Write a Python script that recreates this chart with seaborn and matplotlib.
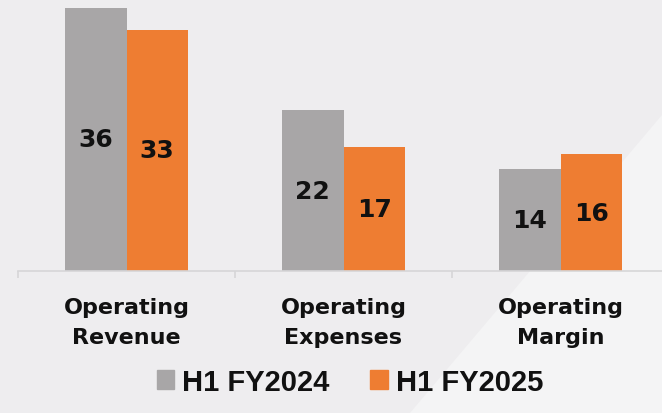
import pandas as pd
import matplotlib.pyplot as plt
import seaborn as sns
from matplotlib.patches import Polygon

# chart values
categories = ['Operating\nRevenue', 'Operating\nExpenses', 'Operating\nMargin']
periods = ['H1 FY2024', 'H1 FY2025']
fy2024 = [36, 22, 14]
fy2025 = [33, 17, 16]

colors = {'H1 FY2024': '#a8a6a7', 'H1 FY2025': '#ee7d32'}

df = pd.DataFrame({
    'Category': categories * 2,
    'Period': [periods[0]] * 3 + [periods[1]] * 3,
    'Value': fy2024 + fy2025,
})

sns.set_style('white')
plt.rcParams['font.family'] = ['DejaVu Sans']

fig = plt.figure(figsize=(6.62, 4.14), dpi=100, facecolor='#eeedef')

# soft light wedge in the background (lower right)
bg = Polygon([(1.0, 0.72), (1.0, 0.0), (0.62, 0.0)], closed=True,
             transform=fig.transFigure, facecolor='#f4f4f5', edgecolor='none', zorder=-10)
fig.patches.append(bg)

ax = fig.add_axes([18 / 662, 142 / 414, 644 / 662, 272 / 414])
ax.set_facecolor('none')
ax.set_zorder(5)

sns.barplot(data=df, x='Category', y='Value', hue='Period', palette=colors,
            width=0.565, gap=0, saturation=1, linewidth=0, ax=ax, legend=False)

for cont in ax.containers:
    ax.bar_label(cont, label_type='center', fontsize=18, fontweight='bold', color='#111111')

ax.set_yticks([])
ax.set_xlabel('')
ax.set_ylabel('')

for s in ['top', 'right', 'left']:
    ax.spines[s].set_visible(False)
ax.spines['bottom'].set_color('#d6d6d8')
ax.spines['bottom'].set_linewidth(1.2)

ax.set_xticks([0, 1, 2])
ax.set_xticklabels(categories, fontsize=16, fontweight='bold', color='#111111', linespacing=1.6)
ax.tick_params(axis='x', which='major', bottom=False, length=0, pad=19)
ax.set_xticks([-0.5, 0.5, 1.5, 2.5], minor=True)
ax.tick_params(axis='x', which='minor', bottom=True, length=5, width=1.2,
               color='#d6d6d8', direction='out')

# limits after ticks, so the tick at 2.5 does not widen the view
ax.set_xlim(-0.5, -0.5 + 644 / 217.0)
ax.set_ylim(0, 37.2)

# legend at bottom
handles = [plt.Rectangle((0, 0), 1, 1, color=colors[p]) for p in periods]
leg = fig.legend(handles, periods, loc='center', bbox_to_anchor=(350 / 662, 1 - 383 / 414), ncol=2,
                 frameon=False, handlelength=0.6, handleheight=0.6, handletextpad=0.28,
                 columnspacing=1.4, prop={'family': 'Liberation Sans', 'weight': 'bold', 'size': 21})
for t in leg.get_texts():
    t.set_color('#111111')

fig.savefig('out.png', dpi=100, facecolor=fig.get_facecolor())
